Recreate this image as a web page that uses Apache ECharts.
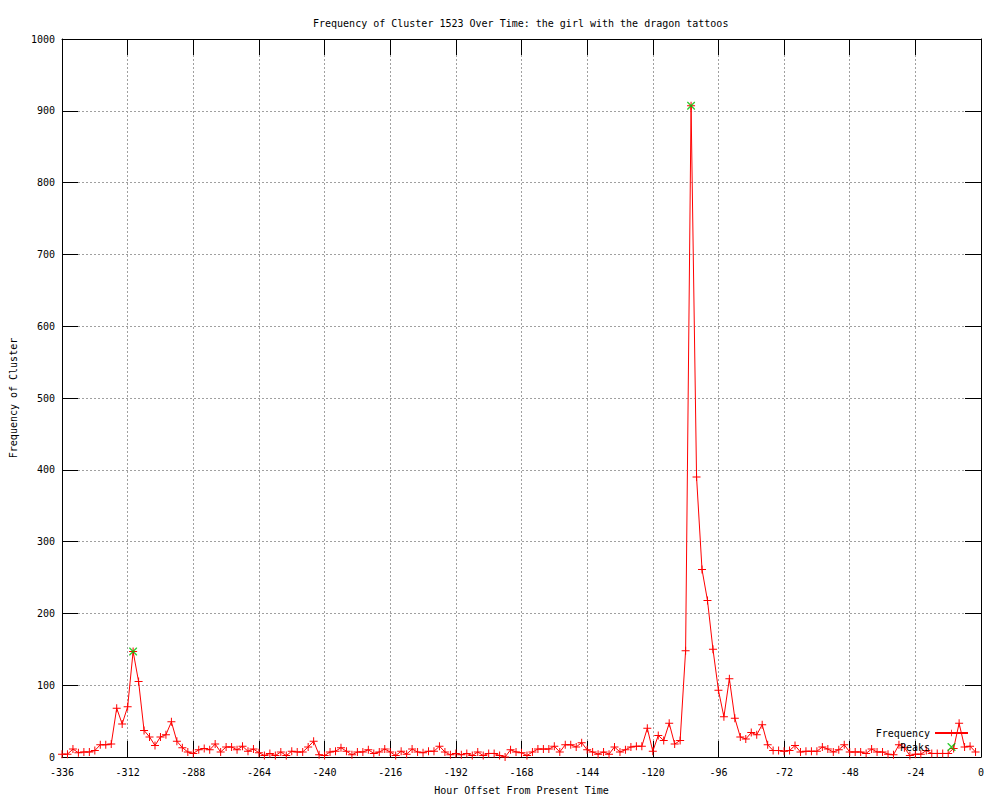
<!DOCTYPE html>
<html>
<head>
<meta charset="utf-8">
<script src="https://cdn.jsdelivr.net/npm/echarts@6/dist/echarts.min.js"></script>
<style>html,body{margin:0;padding:0;background:#fff}#c{width:1000px;height:800px}</style>
</head>
<body>
<div id="c"></div>
<script>
// Hour offsets (every 2 hours) and observed frequencies
const hours = [];
for (let h = -336; h <= -2; h += 2) hours.push(h);
const freqValues = [
  4, 4, 11, 6, 7, 7, 9, 17, 17, 18,
  68, 46, 70, 147, 105, 37, 28, 16, 28, 31,
  49, 22, 13, 7, 5, 10, 12, 10, 18, 7,
  14, 14, 10, 15, 8, 11, 6, 2, 5, 2,
  7, 2, 8, 7, 7, 14, 22, 3, 2, 7,
  8, 13, 8, 3, 7, 7, 10, 5, 7, 11,
  7, 2, 8, 4, 11, 7, 6, 8, 8, 15,
  7, 3, 5, 3, 5, 2, 7, 2, 5, 5,
  2, 0, 10, 7, 6, 2, 7, 11, 11, 11,
  15, 7, 17, 17, 14, 20, 10, 7, 4, 7,
  4, 14, 7, 10, 14, 15, 15, 40, 8, 30,
  23, 47, 18, 23, 148, 907, 390, 261, 218, 150,
  93, 56, 109, 54, 28, 25, 34, 31, 45, 17,
  9, 9, 8, 9, 16, 7, 8, 8, 8, 14,
  11, 7, 10, 17, 7, 7, 7, 5, 11, 7,
  7, 4, 3, 17, 13, 2, 4, 4, 9, 5,
  5, 5, 5, 12, 47, 14, 15, 7
];
const peakHours = [-310, -106];
const peakValues = [147, 907];
const xTicks = { min: -336, max: 0, interval: 24 };
const yTicks = { min: 0, max: 1000, interval: 100 };

const freqData = hours.map((h, i) => [h, freqValues[i]]);
const peakData = peakHours.map((h, i) => [h, peakValues[i]]);

const FONT = 'DejaVu Sans Mono';
const plus = 'path://M0,3.5H8V4.5H0ZM3.5,0H4.5V8H3.5Z';
const cross = 'path://M0,0L1,0L8,7L8,8L7,8L0,1ZM7,0L8,0L8,1L1,8L0,8L0,7Z';

const chart = echarts.init(document.getElementById('c'), null, { renderer: 'svg' });
const tickCommon = { show: true, inside: true, length: 16, lineStyle: { color: '#000', width: 1 } };
const plain = v => String(v);
chart.setOption({
  animation: false,
  backgroundColor: '#fff',
  title: {
    text: 'Frequency of Cluster 1523 Over Time: the girl with the dragon tattoos',
    left: 308, top: 13,
    textStyle: { fontFamily: FONT, fontSize: 10, fontWeight: 'normal', color: '#000' }
  },
  legend: {
    data: ['Frequency', 'Peaks'],
    orient: 'vertical', right: 26, top: 723, align: 'right',
    itemWidth: 33, itemHeight: 8, itemGap: 4,
    textStyle: { fontFamily: FONT, fontSize: 10, color: '#000' }
  },
  grid: { left: 62, right: 19, top: 39, bottom: 40, containLabel: false },
  xAxis: [{
    type: 'value', min: xTicks.min, max: xTicks.max, interval: xTicks.interval,
    position: 'bottom',
    name: 'Hour Offset From Present Time', nameLocation: 'middle', nameGap: 28,
    nameTextStyle: { fontFamily: FONT, fontSize: 10, color: '#000' },
    axisLine: { show: true, onZero: false, lineStyle: { color: '#000', width: 1 } },
    axisTick: tickCommon,
    axisLabel: { fontFamily: FONT, fontSize: 10, color: '#000', margin: 10, formatter: plain },
    splitLine: { show: true, lineStyle: { color: '#a0a0a0', type: [2, 2], width: 1 } }
  }, {
    type: 'value', min: xTicks.min, max: xTicks.max, interval: xTicks.interval,
    position: 'top',
    axisLine: { show: true, onZero: false, lineStyle: { color: '#000', width: 1 } },
    axisTick: tickCommon, axisLabel: { show: false }, splitLine: { show: false }
  }],
  yAxis: [{
    type: 'value', min: yTicks.min, max: yTicks.max, interval: yTicks.interval,
    position: 'left',
    name: 'Frequency of Cluster', nameLocation: 'middle', nameGap: 44, nameRotate: 90,
    nameTextStyle: { fontFamily: FONT, fontSize: 10, color: '#000' },
    axisLine: { show: true, onZero: false, lineStyle: { color: '#000', width: 1 } },
    axisTick: tickCommon,
    axisLabel: { fontFamily: FONT, fontSize: 10, color: '#000', margin: 7, formatter: plain },
    splitLine: { show: true, lineStyle: { color: '#a0a0a0', type: [2, 2], width: 1 } }
  }, {
    type: 'value', min: yTicks.min, max: yTicks.max, interval: yTicks.interval,
    position: 'right',
    axisLine: { show: true, onZero: false, lineStyle: { color: '#000', width: 1 } },
    axisTick: tickCommon, axisLabel: { show: false }, splitLine: { show: false }
  }],
  series: [{
    name: 'Frequency', type: 'line', data: freqData,
    showSymbol: true, showAllSymbol: true,
    symbol: plus, symbolSize: 8,
    itemStyle: { color: '#ff0000' },
    lineStyle: { color: '#ff0000', width: 1 },
    emphasis: { disabled: true }
  }, {
    name: 'Peaks', type: 'scatter', data: peakData,
    symbol: cross, symbolSize: 8,
    itemStyle: { color: '#00c000' },
    emphasis: { disabled: true }, z: 3
  }]
});
</script>
</body>
</html>
